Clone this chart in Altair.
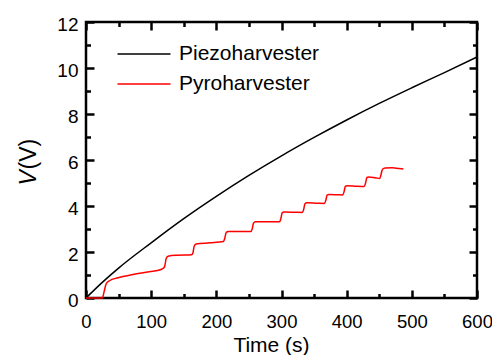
import altair as alt
import pandas as pd

series_names = ["Piezoharvester", "Pyroharvester"]
series_colors = ["#000000", "#ff0000"]

piezo_t = [0, 25, 50, 100, 150, 200, 250, 300, 350, 400, 450, 500, 550, 600]
piezo_v = [0, 0.68, 1.30, 2.40, 3.45, 4.42, 5.33, 6.18, 6.98, 7.74, 8.46, 9.14, 9.80, 10.48]

pyro_t = [0, 25, 28, 31, 36, 49, 72, 97, 115, 119, 121, 123, 126, 140, 162,
          164, 166, 169, 190, 211, 213, 215, 218, 240, 253, 255, 257, 260, 285,
          297, 299, 301, 304, 320, 332, 334, 336, 339, 355, 366, 368, 370, 373,
          385, 394, 396, 398, 401, 415, 427, 429, 431, 434, 445, 451, 453, 455,
          459, 470, 480, 487]
pyro_v = [0, 0.0, 0.30, 0.62, 0.75, 0.88, 1.02, 1.14, 1.24, 1.30, 1.40, 1.72, 1.82, 1.86, 1.88,
          1.95, 2.25, 2.35, 2.40, 2.46, 2.60, 2.84, 2.89, 2.89, 2.89, 3.00, 3.25, 3.31, 3.31,
          3.31, 3.45, 3.70, 3.74, 3.73, 3.72, 3.85, 4.10, 4.14, 4.12, 4.11, 4.25, 4.47, 4.50,
          4.49, 4.48, 4.62, 4.86, 4.88, 4.86, 4.85, 5.00, 5.24, 5.26, 5.22, 5.20, 5.40, 5.60,
          5.65, 5.66, 5.63, 5.61]

x_major = [0, 100, 200, 300, 400, 500, 600]
x_minor = [50, 150, 250, 350, 450, 550]
y_major = [0, 2, 4, 6, 8, 10, 12]
y_minor = [1, 3, 5, 7, 9, 11]

df = pd.concat([
    pd.DataFrame({"t": piezo_t, "v": piezo_v, "series": series_names[0]}),
    pd.DataFrame({"t": pyro_t, "v": pyro_v, "series": series_names[1]}),
])

FONT = "Liberation Sans"
xs = alt.Scale(domain=[0, 600], nice=False, zero=False)
ys = alt.Scale(domain=[0, 12], nice=False, zero=False)


def ax(orient, values, size, labels=False, **kw):
    return alt.Axis(orient=orient, values=values, tickSize=alt.ExprRef(expr=str(-size)),
                    tickWidth=2.5, tickColor="black", domain=False, grid=False,
                    labels=labels, labelFlush=False, labelFont=FONT, labelColor="black",
                    titleFont=FONT, titleColor="black", titleFontWeight="normal", **kw)


x_bottom = ax("bottom", x_major, 8, labels=True, labelFontSize=18.5, labelPadding=22,
              title="Time (s)", titleFontSize=21, titleAlign="center",
              titleBaseline="alphabetic", titleX=185, titleY=53)
x_bottom_minor = ax("bottom", x_minor, 4.5, title=None)
x_top = ax("top", x_major, 8, title=None)
x_top_minor = ax("top", x_minor, 4.5, title=None)

y_left = ax("left", y_major, 8, labels=True, labelFontSize=19, labelPadding=16,
            labelOffset=2, title="V", titleFontSize=23, titleFontStyle="italic",
            titleAngle=270, titleAlign="left", titleBaseline="alphabetic",
            titleX=-51, titleY=163)
y_left_minor = ax("left", y_minor, 4.5, title="(V)", titleFontSize=23, titleAngle=270,
                  titleAlign="left", titleBaseline="alphabetic", titleX=-51, titleY=147)
y_right = ax("right", y_major, 8, title=None)
y_right_minor = ax("right", y_minor, 4.5, title=None)

color = alt.Color("series:N", scale=alt.Scale(domain=series_names, range=series_colors),
                  legend=alt.Legend(orient="none", legendX=47, legendY=21, title=None,
                                    symbolType="M-2.65,0H2.65", symbolSize=400,
                                    symbolStrokeWidth=1.4, labelFont=FONT, labelFontSize=21,
                                    labelColor="black", labelOffset=24, rowPadding=9,
                                    padding=0, labelLimit=300))

base = alt.Chart(df)

piezo = base.transform_filter(alt.datum.series == series_names[0]).mark_line(
    strokeWidth=1.5, interpolate="monotone").encode(
    x=alt.X("t:Q", scale=xs, axis=x_bottom),
    y=alt.Y("v:Q", scale=ys, axis=y_left),
    color=color)

pyro = base.transform_filter(alt.datum.series == series_names[1]).mark_line(
    strokeWidth=1.5, interpolate="monotone").encode(
    x=alt.X("t:Q", scale=xs, axis=x_bottom_minor),
    y=alt.Y("v:Q", scale=ys, axis=y_left_minor),
    color=color)

ghost1 = base.mark_line(opacity=0).encode(
    x=alt.X("t:Q", scale=xs, axis=x_top),
    y=alt.Y("v:Q", scale=ys, axis=y_right),
    detail="series:N")

ghost2 = base.mark_line(opacity=0).encode(
    x=alt.X("t:Q", scale=xs, axis=x_top_minor),
    y=alt.Y("v:Q", scale=ys, axis=y_right_minor),
    detail="series:N")

chart = alt.layer(piezo, pyro, ghost1, ghost2).resolve_axis(
    x="independent", y="independent"
).properties(
    width=391, height=276, autosize="none",
    padding={"left": 78, "top": 14, "right": 15, "bottom": 58},
    background="white",
).configure_view(stroke="black", strokeWidth=2.5)

chart.save("out.html", embed_options={"renderer": "svg", "actions": False})
